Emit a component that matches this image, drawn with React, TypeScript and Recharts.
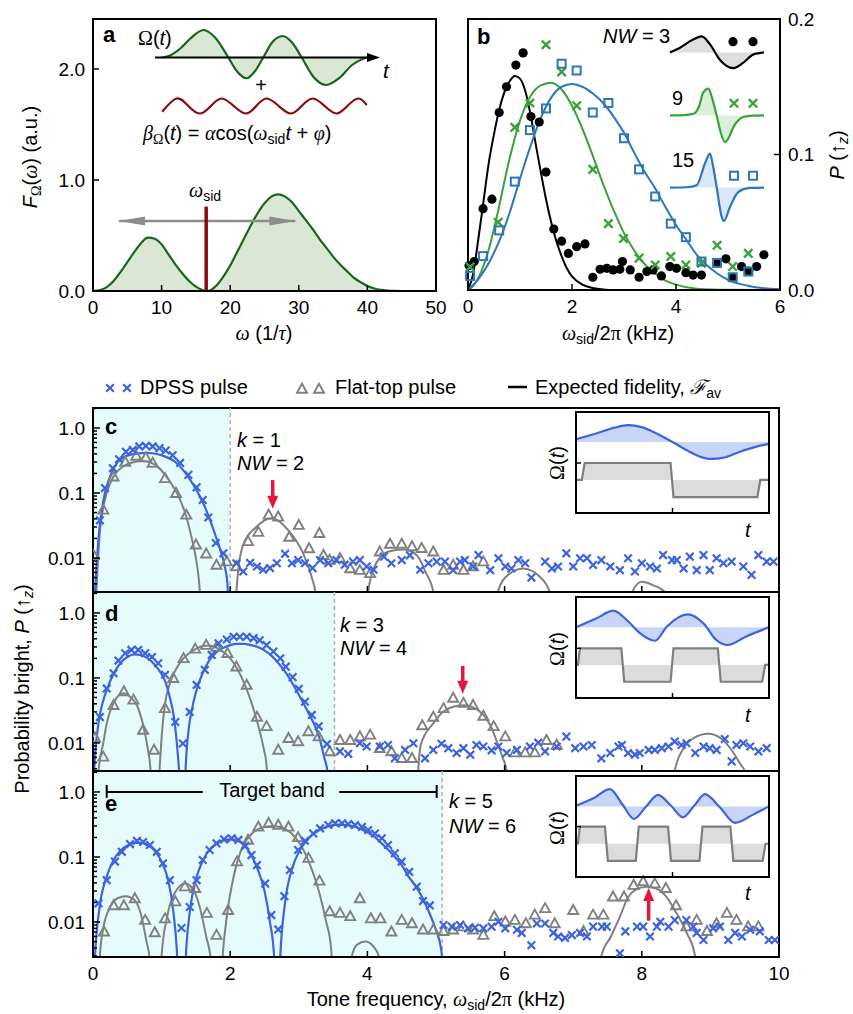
import React from 'react'
import { ComposedChart, Area, Line, Scatter, XAxis, YAxis, ReferenceArea, ReferenceLine } from 'recharts'

type Pt = [number, number]

const FONT = '"Liberation Sans", Arial, Helvetica, sans-serif'
const SERIF = '"Liberation Serif", "DejaVu Serif", serif'
const BLUE = '#3d63de'
const GRAY = '#808080'
const RED = '#e3173e'
const DRED = '#8b0a0a'
const BAND = '#e6fcfc'
const AGREEN = '#17661a'
const AFILL = '#dbe7d5'
const AXIS = { stroke: '#000', strokeWidth: 2 }

// ---- panel a
const aTicksX = [0, 10, 20, 30, 40, 50]
const aTicksY = [0, 1, 2]
const aSpectrum: Pt[] = [
  [0, 0], [1, 0.008], [2, 0.035], [3, 0.09], [4, 0.17], [5, 0.26], [6, 0.35], [7, 0.43], [8, 0.48], [9, 0.47],
  [10, 0.42], [11, 0.33], [12, 0.24], [13, 0.16], [14, 0.09], [15, 0.04], [16, 0.008], [16.5, 0], [17, 0.005],
  [18, 0.05], [19, 0.13], [20, 0.23], [21, 0.35], [22, 0.47], [23, 0.59], [24, 0.7], [25, 0.79], [26, 0.85],
  [27, 0.87], [28, 0.85], [29, 0.8], [30, 0.72], [31, 0.64], [32, 0.56], [33, 0.47], [34, 0.39], [35, 0.31],
  [36, 0.24], [37, 0.18], [38, 0.12], [39, 0.08], [40, 0.045], [41, 0.022], [42, 0.01], [43, 0.004], [44, 0.001],
  [45, 0], [50, 0],
]
const aPulse: Pt[] = [
  [0.32, 0], [0.67, 0.08], [1.11, 0.35], [1.56, 0.75], [2.15, 1.1], [2.67, 0.8], [3.26, 0], [3.64, -0.55],
  [4.07, -0.83], [4.44, -0.55], [4.81, 0], [5.2, 0.6], [5.68, 0.86], [6.09, 0.6], [6.52, 0], [7.02, -0.75],
  [7.6, -1.1], [8.22, -0.8], [8.76, -0.3], [9.41, 0],
]
const aTone: Pt[] = [
  [0.32, -2.17], [0.96, -1.64], [1.48, -1.94], [2.0, -2.24], [2.48, -1.94], [2.96, -1.64], [3.5, -1.94],
  [4.04, -2.24], [4.5, -1.94], [4.96, -1.64], [5.5, -1.94], [6.04, -2.24], [6.52, -1.94], [7.01, -1.64],
  [7.54, -1.94], [8.07, -2.24], [8.55, -1.94], [9.04, -1.64], [9.41, -1.9],
]

// ---- panel b
const bTicksX = [0, 2, 4, 6]
const bTicksY = [0, 0.1, 0.2]
const bNW3: Pt[] = [
  [0.02, 0.018], [0.12, 0.021], [0.29, 0.06], [0.46, 0.067], [0.6, 0.131], [0.74, 0.15], [0.92, 0.166],
  [1.06, 0.175], [1.21, 0.128], [1.37, 0.124], [1.5, 0.087], [1.65, 0.045], [1.8, 0.036], [1.93, 0.027],
  [2.09, 0.032], [2.25, 0.034], [2.4, 0.0094], [2.54, 0.0153], [2.67, 0.016], [2.79, 0.0148], [2.92, 0.0153],
  [2.97, 0.021], [3.12, 0.0148], [3.29, 0.0094], [3.44, 0.0136], [3.56, 0.0148], [3.72, 0.0104], [3.88, 0.0173],
  [4.01, 0.016], [4.19, 0.0128], [4.33, 0.011], [4.49, 0.011], [4.79, 0.0198], [4.96, 0.023], [5.09, 0.0094],
  [5.26, 0.0173], [5.4, 0.014], [5.55, 0.0173], [5.69, 0.026],
]
const bNW9: Pt[] = [
  [0.04, 0.017], [0.58, 0.05], [0.9, 0.12], [1.19, 0.138], [1.5, 0.181], [1.8, 0.161], [2.09, 0.136], [2.4, 0.089],
  [2.7, 0.049], [2.99, 0.038], [3.29, 0.0235], [3.6, 0.0185], [3.9, 0.0247], [4.19, 0.0185], [4.49, 0.0198],
  [4.79, 0.033], [5.09, 0.0173], [5.39, 0.027],
]
const bNW15: Pt[] = [
  [0.04, 0.0104], [0.29, 0.025], [0.6, 0.044], [0.9, 0.08], [1.19, 0.118], [1.5, 0.134], [1.8, 0.167], [2.09, 0.162],
  [2.4, 0.131], [2.7, 0.138], [3.0, 0.112], [3.29, 0.089], [3.6, 0.069], [3.9, 0.049], [4.19, 0.039], [4.49, 0.021],
  [4.79, 0.02], [5.09, 0.0094], [5.39, 0.0136],
]
const bFit3: Pt[] = [
  [0, 0], [0.1, 0.012], [0.2, 0.038], [0.3, 0.066], [0.4, 0.094], [0.5, 0.115], [0.6, 0.133], [0.7, 0.146],
  [0.8, 0.154], [0.9, 0.158], [1.0, 0.156], [1.1, 0.147], [1.2, 0.13], [1.3, 0.108], [1.4, 0.087], [1.5, 0.067],
  [1.6, 0.05], [1.7, 0.036], [1.8, 0.025], [1.9, 0.016], [2.0, 0.01], [2.2, 0.004], [2.4, 0.0015], [2.6, 0.0004],
  [2.8, 0], [6, 0],
]
const bFit9: Pt[] = [
  [0, 0], [0.1, 0.003], [0.2, 0.009], [0.3, 0.018], [0.4, 0.03], [0.5, 0.045], [0.6, 0.062], [0.7, 0.08],
  [0.8, 0.097], [0.9, 0.112], [1.0, 0.125], [1.2, 0.143], [1.4, 0.151], [1.6, 0.153], [1.8, 0.148], [2.0, 0.136],
  [2.2, 0.119], [2.4, 0.099], [2.6, 0.078], [2.8, 0.059], [3.0, 0.042], [3.2, 0.029], [3.4, 0.019], [3.6, 0.012],
  [3.8, 0.007], [4.0, 0.004], [4.4, 0.001], [5, 0.0002], [6, 0],
]
const bFit15: Pt[] = [
  [0, 0], [0.2, 0.008], [0.4, 0.02], [0.6, 0.036], [0.8, 0.057], [1.0, 0.082], [1.2, 0.106], [1.4, 0.127],
  [1.6, 0.142], [1.8, 0.15], [2.0, 0.152], [2.2, 0.15], [2.4, 0.145], [2.6, 0.138], [2.8, 0.128], [3.0, 0.116],
  [3.2, 0.101], [3.4, 0.087], [3.6, 0.075], [3.8, 0.061], [4.0, 0.048], [4.2, 0.037], [4.4, 0.026], [4.6, 0.018],
  [4.8, 0.012], [5.0, 0.0075], [5.4, 0.003], [6, 0.0005],
]
const bWave3: Pt[] = [
  [0, 0], [0.106, 0.29], [0.245, 0.8], [0.337, 1.0], [0.426, 0.5], [0.532, -0.47], [0.674, -0.98], [0.777, -0.66],
  [0.883, -0.14], [1, 0],
]
const bWave9: Pt[] = [
  [0, 0], [0.15, 0.01], [0.248, 0.06], [0.31, 0.35], [0.355, 0.87], [0.408, 1.0], [0.45, 0.62], [0.496, 0],
  [0.54, -0.65], [0.585, -1.0], [0.63, -0.8], [0.674, -0.44], [0.73, -0.17], [0.78, -0.06], [0.88, -0.01], [1, 0],
]
const bWave15: Pt[] = [
  [0, 0], [0.18, 0.01], [0.284, 0.07], [0.372, 0.71], [0.426, 1.0], [0.457, 0.65], [0.496, 0.02], [0.55, -0.86],
  [0.574, -0.98], [0.638, -0.57], [0.727, -0.13], [0.85, -0.01], [1, 0],
]

// ---- panels c, d, e
const FREQ_TICKS = [0, 2, 4, 6, 8, 10]
const LOG_TICKS = [
  0.003, 0.004, 0.005, 0.006, 0.007, 0.008, 0.009, 0.01, 0.02, 0.03, 0.04, 0.05, 0.06, 0.07, 0.08, 0.09,
  0.1, 0.2, 0.3, 0.4, 0.5, 0.6, 0.7, 0.8, 0.9, 1, 2,
]
const LOG_MAJOR = [0.01, 0.1, 1]
const LOG_LABELS: Record<string, string> = { '0.01': '0.01', '0.1': '0.1', '1': '1.0' }

const cDpss: Pt[] = [
  [0.1, 0.038], [0.175, 0.119], [0.29, 0.24], [0.38, 0.33], [0.48, 0.43], [0.58, 0.46], [0.675, 0.52], [0.77, 0.53],
  [0.87, 0.52], [0.97, 0.49], [1.06, 0.45], [1.16, 0.38], [1.27, 0.29], [1.39, 0.19], [1.51, 0.122], [1.6, 0.078],
  [1.68, 0.042], [1.79, 0.017], [1.9, 0.0118], [2.09, 0.0083], [2.19, 0.0062], [2.29, 0.0084], [2.39, 0.0074],
  [2.48, 0.0066], [2.58, 0.007], [2.68, 0.0083], [2.8, 0.0116], [2.9, 0.0083], [2.99, 0.0093], [3.09, 0.0083],
  [3.2, 0.007], [3.31, 0.0093], [3.43, 0.0083], [3.55, 0.0093], [3.67, 0.0079], [3.79, 0.0088], [3.89, 0.0093],
  [3.99, 0.0074], [4.09, 0.0066], [4.24, 0.0105], [4.35, 0.0083], [4.5, 0.0093], [4.62, 0.011], [4.77, 0.0066],
  [4.89, 0.0083], [5.01, 0.0088], [5.13, 0.0088], [5.25, 0.0065], [5.35, 0.0088], [5.42, 0.0093], [5.54, 0.0074],
  [5.62, 0.0111], [5.79, 0.0065], [5.91, 0.0099], [6.01, 0.0074], [6.1, 0.0069], [6.2, 0.0093], [6.3, 0.0083],
  [6.39, 0.005], [6.59, 0.0088], [6.69, 0.0069], [6.78, 0.0074], [6.9, 0.0118], [7.0, 0.0074], [7.1, 0.0099],
  [7.2, 0.0099], [7.29, 0.0078], [7.41, 0.0093], [7.54, 0.0074], [7.68, 0.0065], [7.8, 0.0099], [7.9, 0.0062],
  [8.0, 0.0083], [8.12, 0.0074], [8.22, 0.0069], [8.31, 0.0111], [8.44, 0.0093], [8.51, 0.0093], [8.61, 0.0069],
  [8.7, 0.0105], [8.8, 0.0065], [8.9, 0.0111], [8.99, 0.0065], [9.09, 0.0099], [9.19, 0.0083], [9.31, 0.0088],
  [9.48, 0.0074], [9.6, 0.0055], [9.7, 0.0111], [9.82, 0.0088], [9.92, 0.0088],
]
const cFlat: Pt[] = [
  [0.01, 0.011], [0.15, 0.055], [0.3, 0.178], [0.47, 0.3], [0.63, 0.37], [0.77, 0.35], [0.87, 0.29], [1.05, 0.168],
  [1.21, 0.099], [1.36, 0.046], [1.5, 0.016], [1.65, 0.0116], [1.8, 0.0078], [1.95, 0.0088], [2.09, 0.0074],
  [2.26, 0.018], [2.41, 0.025], [2.56, 0.046], [2.7, 0.043], [2.86, 0.021], [3.0, 0.032], [3.15, 0.014],
  [3.3, 0.024], [3.36, 0.011], [3.45, 0.0093], [3.6, 0.0099], [3.75, 0.0069], [3.89, 0.0065], [4.04, 0.0058],
  [4.18, 0.0125], [4.33, 0.0164], [4.5, 0.0164], [4.65, 0.015], [4.79, 0.0141], [4.96, 0.0125], [5.11, 0.0065],
  [5.25, 0.0078], [5.4, 0.0065], [5.54, 0.0074], [5.69, 0.0088],
]
const cDpssFit: Pt[] = [
  [0, 0.0005], [0.03, 0.003], [0.08, 0.02], [0.15, 0.075], [0.25, 0.18], [0.4, 0.33], [0.6, 0.4], [0.8, 0.415],
  [1.0, 0.38], [1.2, 0.3], [1.4, 0.17], [1.5, 0.115], [1.6, 0.072], [1.7, 0.04], [1.8, 0.02], [1.86, 0.013],
  [1.92, 0.0075], [1.96, 0.004], [1.99, 0.0005], [10, 0.0005],
]
const cFlatFit: Pt[] = [
  [0.02, 0.0005], [0.05, 0.003], [0.1, 0.025], [0.15, 0.06], [0.2, 0.1], [0.3, 0.18], [0.45, 0.26], [0.6, 0.3],
  [0.72, 0.31], [0.85, 0.29], [0.95, 0.25], [1.05, 0.19], [1.15, 0.135], [1.25, 0.088], [1.36, 0.043],
  [1.44, 0.02], [1.5, 0.01], [1.54, 0.005], [1.57, 0.002], [1.6, 0.0005], [2.05, 0.0005], [2.09, 0.003],
  [2.18, 0.015], [2.38, 0.03], [2.6, 0.041], [2.87, 0.025], [3.06, 0.012], [3.2, 0.0046], [3.24, 0.003],
  [3.28, 0.0005], [3.97, 0.0005], [4.01, 0.003], [4.12, 0.008], [4.3, 0.0125], [4.52, 0.0135], [4.72, 0.011],
  [4.85, 0.006], [4.96, 0.003], [5.0, 0.0005], [5.86, 0.0005], [5.9, 0.003], [6.05, 0.0055], [6.27, 0.0069],
  [6.5, 0.0053], [6.66, 0.003], [6.7, 0.0005], [7.82, 0.0005], [7.86, 0.003], [8.0, 0.0043], [8.17, 0.0038],
  [8.34, 0.003], [8.38, 0.0005], [10, 0.0005],
]

const dDpss: Pt[] = [
  [0.1, 0.025], [0.2, 0.069], [0.3, 0.118], [0.37, 0.185], [0.47, 0.24], [0.56, 0.27], [0.66, 0.27], [0.76, 0.24],
  [0.86, 0.21], [0.95, 0.168], [1.05, 0.112], [1.2, 0.021], [1.31, 0.0098], [1.41, 0.03], [1.51, 0.078],
  [1.63, 0.133], [1.73, 0.226], [1.83, 0.34], [1.95, 0.39], [2.05, 0.43], [2.14, 0.43], [2.24, 0.43], [2.34, 0.41],
  [2.43, 0.38], [2.53, 0.32], [2.63, 0.254], [2.73, 0.2], [2.81, 0.149], [2.91, 0.103], [3.0, 0.068], [3.09, 0.043],
  [3.19, 0.027], [3.29, 0.018], [3.41, 0.0096], [3.6, 0.0074], [3.72, 0.0068], [3.89, 0.0099], [3.99, 0.0088],
  [4.18, 0.0088], [4.3, 0.0093], [4.4, 0.0058], [4.55, 0.0078], [4.67, 0.0099], [4.84, 0.0058], [4.96, 0.0078],
  [5.08, 0.0097], [5.18, 0.0083], [5.3, 0.007], [5.4, 0.0083], [5.5, 0.0066], [5.59, 0.0093], [5.69, 0.0088],
  [5.81, 0.0077], [5.91, 0.0088], [6.03, 0.007], [6.18, 0.0078], [6.37, 0.0088], [6.49, 0.0101], [6.59, 0.0074],
  [6.76, 0.0088], [6.9, 0.0125], [7.03, 0.0083], [7.15, 0.0088], [7.27, 0.0093], [7.41, 0.0058], [7.54, 0.007],
  [7.66, 0.0088], [7.71, 0.0093], [7.8, 0.007], [7.9, 0.0066], [7.97, 0.007], [8.1, 0.0078], [8.19, 0.0078],
  [8.29, 0.0083], [8.39, 0.0088], [8.48, 0.0105], [8.58, 0.0093], [8.65, 0.0099], [8.78, 0.007], [8.9, 0.0088],
  [8.99, 0.0083], [9.09, 0.0078], [9.21, 0.0115], [9.31, 0.0052], [9.38, 0.0093], [9.48, 0.0099], [9.58, 0.0088],
  [9.7, 0.0074], [9.82, 0.0083],
]
const dFlat: Pt[] = [
  [0.03, 0.012], [0.15, 0.0061], [0.3, 0.038], [0.45, 0.062], [0.59, 0.046], [0.73, 0.0158], [0.89, 0.0078],
  [1.05, 0.034], [1.17, 0.099], [1.32, 0.2], [1.49, 0.28], [1.65, 0.32], [1.8, 0.3], [1.96, 0.24], [2.09, 0.149],
  [2.24, 0.078], [2.39, 0.025], [2.53, 0.018], [2.7, 0.0078], [2.85, 0.0118], [2.99, 0.0105], [3.14, 0.015],
  [3.29, 0.0125], [3.45, 0.0074], [3.6, 0.011], [3.75, 0.011], [3.89, 0.0125], [4.04, 0.0133], [4.18, 0.0083],
  [4.35, 0.0074], [4.5, 0.0058], [4.65, 0.0058], [4.8, 0.0185], [4.96, 0.025], [5.11, 0.034], [5.25, 0.049],
  [5.4, 0.041], [5.54, 0.038], [5.69, 0.026], [5.84, 0.018], [6.01, 0.0125], [6.15, 0.0071], [6.3, 0.0071],
  [6.44, 0.0071], [6.61, 0.011], [6.76, 0.0093],
]
const dDpssFit: Pt[] = [
  [0, 0.0005], [0.02, 0.004], [0.08, 0.02], [0.15, 0.045], [0.2, 0.065], [0.3, 0.116], [0.4, 0.17], [0.5, 0.21],
  [0.6, 0.23], [0.7, 0.225], [0.8, 0.2], [0.9, 0.16], [1.0, 0.115], [1.05, 0.09], [1.12, 0.05], [1.18, 0.025],
  [1.23, 0.008], [1.26, 0.003], [1.29, 0.0005], [1.32, 0.0005], [1.35, 0.004], [1.4, 0.018], [1.44, 0.032],
  [1.5, 0.06], [1.6, 0.12], [1.7, 0.19], [1.8, 0.25], [1.9, 0.29], [2.0, 0.32], [2.1, 0.335], [2.2, 0.335],
  [2.3, 0.32], [2.4, 0.3], [2.5, 0.265], [2.6, 0.22], [2.7, 0.17], [2.8, 0.125], [2.9, 0.085], [3.0, 0.055],
  [3.1, 0.035], [3.2, 0.022], [3.3, 0.012], [3.37, 0.006], [3.42, 0.0035], [3.46, 0.0005], [10, 0.0005],
]
const dFlatFit: Pt[] = [
  [0.05, 0.0005], [0.08, 0.0037], [0.15, 0.01], [0.2, 0.02], [0.3, 0.041], [0.44, 0.058], [0.55, 0.05],
  [0.64, 0.038], [0.73, 0.019], [0.8, 0.008], [0.84, 0.0037], [0.87, 0.0005], [0.94, 0.0005], [0.97, 0.0037],
  [1.0, 0.012], [1.05, 0.04], [1.1, 0.07], [1.2, 0.13], [1.3, 0.19], [1.4, 0.24], [1.5, 0.28], [1.6, 0.31],
  [1.7, 0.315], [1.8, 0.29], [1.9, 0.25], [2.0, 0.2], [2.1, 0.14], [2.2, 0.085], [2.3, 0.045], [2.4, 0.02],
  [2.48, 0.009], [2.53, 0.0045], [2.58, 0.0005], [4.7, 0.0005], [4.74, 0.0037], [4.78, 0.0095], [4.96, 0.02],
  [5.1, 0.03], [5.25, 0.036], [5.4, 0.038], [5.55, 0.035], [5.69, 0.027], [5.8, 0.018], [5.88, 0.011],
  [5.97, 0.006], [6.03, 0.0037], [6.07, 0.0005], [8.42, 0.0005], [8.48, 0.0037], [8.6, 0.008], [8.75, 0.0118],
  [8.97, 0.0138], [9.15, 0.0118], [9.3, 0.008], [9.45, 0.0045], [9.5, 0.0037], [9.55, 0.0005], [10, 0.0005],
]

const eDpss: Pt[] = [
  [0.08, 0.0194], [0.2, 0.044], [0.32, 0.085], [0.42, 0.12], [0.54, 0.158], [0.64, 0.178], [0.73, 0.17],
  [0.83, 0.153], [0.93, 0.12], [1.02, 0.08], [1.12, 0.044], [1.29, 0.0081], [1.41, 0.017], [1.51, 0.044],
  [1.6, 0.09], [1.7, 0.128], [1.8, 0.162], [1.91, 0.187], [2.02, 0.194], [2.12, 0.183], [2.22, 0.148],
  [2.31, 0.107], [2.39, 0.075], [2.51, 0.039], [2.6, 0.0128], [2.7, 0.0077], [2.79, 0.025], [2.87, 0.063],
  [2.99, 0.128], [3.09, 0.178], [3.21, 0.23], [3.31, 0.276], [3.43, 0.31], [3.53, 0.33], [3.63, 0.33], [3.72, 0.32],
  [3.82, 0.31], [3.92, 0.29], [4.01, 0.26], [4.11, 0.23], [4.21, 0.194], [4.3, 0.153], [4.4, 0.114], [4.5, 0.085],
  [4.61, 0.059], [4.72, 0.035], [4.81, 0.021], [4.91, 0.018], [5.11, 0.009], [5.23, 0.0085], [5.35, 0.009],
  [5.47, 0.008], [5.57, 0.0082], [5.69, 0.008], [5.81, 0.0085], [5.91, 0.0101], [6.01, 0.008], [6.18, 0.0076],
  [6.25, 0.0068], [6.39, 0.0044], [6.47, 0.0095], [6.59, 0.0095], [6.71, 0.0068], [6.78, 0.006], [6.88, 0.0057],
  [6.98, 0.0063], [7.1, 0.0068], [7.2, 0.006], [7.29, 0.0085], [7.42, 0.0085], [7.49, 0.0085], [7.68, 0.0033],
  [7.76, 0.0072], [7.93, 0.0085], [8.02, 0.0085], [8.12, 0.006], [8.22, 0.0085], [8.27, 0.0101], [8.39, 0.0085],
  [8.48, 0.0107], [8.65, 0.0107], [8.75, 0.0085], [8.8, 0.0068], [8.9, 0.0053], [9.04, 0.008], [9.14, 0.0085],
  [9.26, 0.0053], [9.36, 0.0068], [9.46, 0.006], [9.58, 0.0076], [9.72, 0.0072], [9.85, 0.0053], [9.94, 0.0053],
]
const eFlat: Pt[] = [
  [0.16, 0.0071], [0.3, 0.018], [0.45, 0.018], [0.61, 0.023], [0.76, 0.0107], [0.9, 0.0069], [1.05, 0.0113],
  [1.2, 0.0206], [1.34, 0.035], [1.49, 0.033], [1.66, 0.0137], [1.8, 0.0063], [1.97, 0.0152], [2.1, 0.085],
  [2.26, 0.183], [2.41, 0.29], [2.56, 0.33], [2.7, 0.31], [2.85, 0.29], [2.99, 0.2], [3.14, 0.096], [3.3, 0.043],
  [3.45, 0.0145], [3.6, 0.0137], [3.75, 0.0122], [3.89, 0.023], [4.05, 0.0113], [4.19, 0.0113], [4.35, 0.0071],
  [4.5, 0.0107], [4.65, 0.0095], [4.81, 0.0076], [4.96, 0.0076], [5.11, 0.0072], [5.25, 0.0076], [5.4, 0.0085],
  [5.54, 0.0076], [5.69, 0.0063], [5.85, 0.0122], [6.01, 0.0101], [6.15, 0.0107], [6.31, 0.0095], [6.44, 0.0129],
  [6.59, 0.0162], [6.73, 0.0095], [7.0, 0.0152], [7.15, 0.0072], [7.29, 0.0129], [7.44, 0.0129], [7.58, 0.0245],
  [7.74, 0.0245], [7.88, 0.037], [8.02, 0.042], [8.19, 0.039], [8.35, 0.033], [8.5, 0.018], [8.65, 0.0085],
  [8.8, 0.0107], [8.95, 0.0072], [9.09, 0.0095], [9.24, 0.0137], [9.38, 0.0107], [9.55, 0.0085], [9.7, 0.0085],
]
const eDpssFit: Pt[] = [
  [0, 0.0005], [0.03, 0.003], [0.1, 0.018], [0.2, 0.05], [0.3, 0.09], [0.4, 0.125], [0.5, 0.15], [0.6, 0.165],
  [0.7, 0.165], [0.8, 0.152], [0.9, 0.125], [1.0, 0.085], [1.1, 0.042], [1.17, 0.015], [1.22, 0.004],
  [1.26, 0.0005], [1.32, 0.0005], [1.36, 0.004], [1.42, 0.017], [1.5, 0.045], [1.6, 0.088], [1.7, 0.13],
  [1.8, 0.16], [1.9, 0.18], [2.0, 0.187], [2.1, 0.18], [2.2, 0.155], [2.3, 0.11], [2.4, 0.065], [2.5, 0.03],
  [2.58, 0.01], [2.64, 0.003], [2.67, 0.0005], [2.7, 0.0005], [2.73, 0.003], [2.8, 0.02], [2.9, 0.065],
  [3.0, 0.12], [3.1, 0.17], [3.2, 0.22], [3.3, 0.26], [3.4, 0.29], [3.5, 0.31], [3.6, 0.315], [3.7, 0.31],
  [3.8, 0.295], [3.9, 0.27], [4.0, 0.24], [4.1, 0.205], [4.2, 0.165], [4.3, 0.13], [4.4, 0.1], [4.5, 0.075],
  [4.6, 0.05], [4.7, 0.036], [4.8, 0.024], [4.9, 0.014], [5.0, 0.0075], [5.08, 0.0035], [5.14, 0.0005], [10, 0.0005],
]
const eFlatFit: Pt[] = [
  [0.07, 0.0005], [0.1, 0.003], [0.15, 0.008], [0.25, 0.017], [0.35, 0.023], [0.48, 0.025], [0.6, 0.022],
  [0.7, 0.013], [0.78, 0.005], [0.83, 0.0025], [0.87, 0.0005], [0.96, 0.0005], [1.0, 0.003], [1.08, 0.012],
  [1.2, 0.029], [1.34, 0.039], [1.45, 0.033], [1.55, 0.018], [1.65, 0.006], [1.72, 0.0025], [1.76, 0.0005],
  [1.85, 0.0005], [1.89, 0.003], [1.95, 0.012], [2.05, 0.05], [2.15, 0.12], [2.3, 0.22], [2.45, 0.28], [2.63, 0.3],
  [2.8, 0.27], [2.95, 0.2], [3.1, 0.11], [3.2, 0.06], [3.3, 0.028], [3.4, 0.01], [3.47, 0.004], [3.52, 0.0005],
  [3.72, 0.0005], [3.77, 0.0029], [3.85, 0.0045], [3.97, 0.005], [4.08, 0.0043], [4.17, 0.0029], [4.22, 0.0005],
  [7.35, 0.0005], [7.41, 0.003], [7.55, 0.006], [7.68, 0.012], [7.8, 0.024], [7.9, 0.031], [8.07, 0.035],
  [8.2, 0.033], [8.35, 0.025], [8.5, 0.014], [8.65, 0.007], [8.78, 0.0029], [8.83, 0.0005], [10, 0.0005],
]

// pulse shape insets of c, d, e (time 0..1, arbitrary amplitude 0..10)
const cPulseDpss: Pt[] = [
  [0, 7.3], [0.1, 7.85], [0.2, 8.45], [0.27, 8.7], [0.34, 8.5], [0.42, 7.85], [0.5, 7.03], [0.58, 6.15],
  [0.64, 5.6], [0.7, 5.35], [0.77, 5.5], [0.85, 6.07], [0.93, 6.55], [1, 6.85],
]
const cPulseFlat: Pt[] = [[0, 3.27], [0.03, 3.27], [0.045, 4.95], [0.49, 4.95], [0.505, 1.58], [0.94, 1.58], [0.955, 3.27], [1, 3.27]]
const dPulseDpss: Pt[] = [
  [0, 7.0], [0.107, 7.9], [0.194, 8.65], [0.263, 7.72], [0.332, 6.4], [0.41, 5.67], [0.47, 7.06], [0.58, 8.28],
  [0.66, 7.4], [0.727, 5.74], [0.787, 5.25], [0.88, 6.07], [1, 7.0],
]
const dPulseFlat: Pt[] = [
  [0, 3.27], [0.01, 3.27], [0.02, 4.92], [0.235, 4.92], [0.25, 1.61], [0.49, 1.61], [0.505, 4.92], [0.735, 4.92],
  [0.75, 1.61], [0.965, 1.61], [0.98, 3.27], [1, 3.27],
]
const ePulseDpss: Pt[] = [
  [0, 7.06], [0.09, 7.8], [0.176, 8.7], [0.24, 7.2], [0.3, 5.75], [0.36, 6.9], [0.425, 8.14], [0.49, 7.1],
  [0.555, 5.91], [0.61, 7.0], [0.668, 8.2], [0.745, 6.9], [0.824, 5.36], [0.92, 6.2], [1, 6.99],
]
const ePulseFlat: Pt[] = [
  [0, 3.29], [0.01, 3.29], [0.02, 4.99], [0.15, 4.99], [0.165, 1.59], [0.31, 1.59], [0.325, 4.99], [0.477, 4.99],
  [0.492, 1.59], [0.64, 1.59], [0.655, 4.99], [0.8, 4.99], [0.815, 1.59], [0.967, 1.59], [0.982, 3.29], [1, 3.29],
]

const rows = (pts: Pt[]) => pts.map(([f, v]) => ({ f, v }))

// ---- marker shapes
const cross = (color: string, s: number, w: number) => (p: any) =>
  p.cx == null ? <g /> : (
    <path d={`M${p.cx - s},${p.cy - s}L${p.cx + s},${p.cy + s}M${p.cx - s},${p.cy + s}L${p.cx + s},${p.cy - s}`} stroke={color} strokeWidth={w} fill="none" />
  )
const tri = (color: string, s: number) => (p: any) =>
  p.cx == null ? <g /> : (
    <path d={`M${p.cx},${p.cy - s * 1.05}L${p.cx + s},${p.cy + s * 0.75}L${p.cx - s},${p.cy + s * 0.75}Z`} stroke={color} strokeWidth={1.9} fill="none" />
  )
const dot = (color: string, r: number) => (p: any) => (p.cx == null ? <g /> : <circle cx={p.cx} cy={p.cy} r={r} fill={color} />)
const square = (color: string, s: number) => (p: any) =>
  p.cx == null ? <g /> : <rect x={p.cx - s} y={p.cy - s} width={2 * s} height={2 * s} stroke={color} strokeWidth={2} fill="none" />
const head = (dir: 'left' | 'right' | 'up' | 'down', len: number, half: number, color: string) => (p: any) => {
  const { cx, cy } = p
  if (cx == null) return <g />
  let d = ''
  if (dir === 'right') d = `M${cx},${cy}L${cx - len},${cy - half}L${cx - len},${cy + half}Z`
  if (dir === 'left') d = `M${cx},${cy}L${cx + len},${cy - half}L${cx + len},${cy + half}Z`
  if (dir === 'down') d = `M${cx},${cy}L${cx - half},${cy - len}L${cx + half},${cy - len}Z`
  if (dir === 'up') d = `M${cx},${cy}L${cx - half},${cy + len}L${cx + half},${cy + len}Z`
  return <path d={d} fill={color} />
}

// ---- axis ticks drawn inward
function Tick(props: any) {
  const { x, y, payload, side, len = 6, minor = 3, majors, fmt } = props
  const v = payload?.value
  const label = fmt ? fmt(v) : ''
  const l = majors && !majors.includes(v) ? minor : len
  const st = { fontFamily: FONT, fontSize: 19, fill: '#000' }
  if (side === 'left')
    return (
      <g>
        <line x1={x} x2={x + l} y1={y} y2={y} stroke="#000" strokeWidth={1.5} />
        {label ? <text x={x - 8} y={y} dy="0.36em" textAnchor="end" style={st}>{label}</text> : null}
      </g>
    )
  if (side === 'right')
    return (
      <g>
        <line x1={x} x2={x - l} y1={y} y2={y} stroke="#000" strokeWidth={1.5} />
        {label ? <text x={x + 8} y={y} dy="0.36em" textAnchor="start" style={st}>{label}</text> : null}
      </g>
    )
  return (
    <g>
      <line x1={x} x2={x} y1={y} y2={y - l} stroke="#000" strokeWidth={1.5} />
      {label ? <text x={x} y={y + 23} textAnchor="middle" style={st}>{label}</text> : null}
    </g>
  )
}

// ---- text helpers
const G = ({ c }: { c: string }) => <span style={{ fontFamily: SERIF, fontStyle: 'italic' }}>{c}</span>
const Sub = ({ children }: any) => <span style={{ fontSize: '0.7em', position: 'relative', top: '0.32em' }}>{children}</span>

function Txt({ x, y, size = 20, anchor = 'start', bold, children }: any) {
  const shift = anchor === 'middle' ? '-50%' : anchor === 'end' ? '-100%' : '0'
  return (
    <div style={{ position: 'absolute', left: x, top: y - size * 0.85, fontSize: size, lineHeight: `${size}px`, fontFamily: FONT, fontWeight: bold ? 700 : 400, whiteSpace: 'nowrap', transform: `translateX(${shift})`, color: '#000' }}>
      {children}
    </div>
  )
}
function VTxt({ x, y, size = 20, children }: any) {
  return (
    <div style={{ position: 'absolute', left: x, top: y, fontSize: size, lineHeight: `${size}px`, fontFamily: FONT, whiteSpace: 'nowrap', transform: 'translate(-50%, -50%) rotate(-90deg)', color: '#000' }}>
      {children}
    </div>
  )
}

interface ToneProps {
  top: number
  height: number
  xh: number
  lo: number
  hi: number
  band: number
  dpss: Pt[]
  flat: Pt[]
  dpssFit: Pt[]
  flatFit: Pt[]
  arrowF: number
  arrowFrom: number
  arrowTo: number
  arrowTip: number
  up?: boolean
  showX?: boolean
  extra?: React.ReactNode
}

function TonePanel(p: ToneProps) {
  const ticks = LOG_TICKS.filter((t) => t >= p.lo && t <= p.hi)
  return (
    <div style={{ position: 'absolute', left: 0, top: p.top }}>
      <ComposedChart width={853} height={p.height} margin={{ top: 8, right: 74, bottom: 0, left: 0 }}>
        <XAxis type="number" dataKey="f" domain={[0, 10]} allowDataOverflow ticks={FREQ_TICKS} interval={0} height={p.xh} tickSize={0} tickMargin={0} tickLine={false} axisLine={AXIS}
          tick={<Tick side="bottom" len={6} fmt={p.showX ? (v: number) => String(v) : undefined} />} />
        <YAxis type="number" scale="log" domain={[p.lo, p.hi]} allowDataOverflow ticks={ticks} interval={0} width={93} tickSize={0} tickMargin={0} tickLine={false} axisLine={AXIS}
          tick={<Tick side="left" len={7} minor={4} majors={LOG_MAJOR} fmt={(v: number) => LOG_LABELS[String(v)] || ''} />} />
        <ReferenceArea x1={0} x2={p.band} y1={p.lo} y2={p.hi} fill={BAND} fillOpacity={1} stroke="none" />
        <ReferenceLine x={p.band} stroke="#a9b5b5" strokeWidth={1.5} strokeDasharray="4 3" />
        <Line data={rows(p.flatFit)} dataKey="v" type="monotone" stroke={GRAY} strokeWidth={2} dot={false} isAnimationActive={false} />
        <Line data={rows(p.dpssFit)} dataKey="v" type="monotone" stroke={BLUE} strokeWidth={2.2} dot={false} isAnimationActive={false} />
        <Scatter data={rows(p.flat)} dataKey="v" shape={tri(GRAY, 5)} isAnimationActive={false} />
        <Scatter data={rows(p.dpss)} dataKey="v" shape={cross(BLUE, 3.8, 2.2)} isAnimationActive={false} />
        <ReferenceLine segment={[{ x: p.arrowF, y: p.arrowFrom }, { x: p.arrowF, y: p.arrowTo }]} stroke={RED} strokeWidth={3.5} />
        <Scatter data={[{ f: p.arrowF, v: p.arrowTip }]} dataKey="v" shape={head(p.up ? 'up' : 'down', 13, 5.5, RED)} isAnimationActive={false} />
        {p.extra}
        <ReferenceArea x1={0} x2={10} y1={p.lo} y2={p.hi} fill="none" stroke="#000" strokeWidth={2} />
      </ComposedChart>
    </div>
  )
}

function PulseInset({ top, dpss, flat, dpssBase, flatBase, high }: any) {
  return (
    <div style={{ position: 'absolute', left: 540, top: top - 7 }}>
      <ComposedChart width={240} height={140} margin={{ top: 7, right: 11, bottom: 31, left: 0 }}>
        <XAxis type="number" dataKey="f" domain={[0, 1]} ticks={[0, 0.5]} interval={0} height={1} tickSize={0} tickMargin={0} tickLine={false} axisLine={AXIS} tick={<Tick side="bottom" len={5} />} />
        <YAxis type="number" domain={[0, 10]} ticks={[high]} interval={0} width={36} tickSize={0} tickMargin={0} tickLine={false} axisLine={AXIS} tick={<Tick side="left" len={5} />} />
        <Area data={rows(dpss)} dataKey="v" baseValue={dpssBase} type="monotone" stroke={BLUE} strokeWidth={2.2} fill="#c9d5f6" fillOpacity={1} isAnimationActive={false} />
        <Area data={rows(flat)} dataKey="v" baseValue={flatBase} type="linear" stroke="#7f7f7f" strokeWidth={2.2} fill="#dcdcdc" fillOpacity={1} isAnimationActive={false} />
        <ReferenceArea x1={0} x2={1} y1={0} y2={10} fill="none" stroke="#000" strokeWidth={2} />
      </ComposedChart>
    </div>
  )
}

function Wave({ left, top, width, height, pts, color, fill }: any) {
  return (
    <div style={{ position: 'absolute', left: left - 3, top: top - 3 }}>
      <ComposedChart width={width + 6} height={height + 6} margin={{ top: 3, right: 3, bottom: 3, left: 3 }}>
        <XAxis type="number" dataKey="f" domain={[0, 1]} hide />
        <YAxis type="number" domain={[-1.4, 1.4]} hide />
        <Area data={rows(pts)} dataKey="v" baseValue={0} type="monotone" stroke={color} strokeWidth={2.2} fill={fill} fillOpacity={1} isAnimationActive={false} />
      </ComposedChart>
    </div>
  )
}

export default function App() {
  return (
    <div style={{ position: 'absolute', left: 0, top: 0, width: 853, height: 1014, background: '#fff', fontFamily: FONT }}>
      {/* panel a */}
      <div style={{ position: 'absolute', left: 0, top: 0 }}>
        <ComposedChart width={460} height={340} margin={{ top: 19, right: 24, bottom: 0, left: 0 }}>
          <XAxis type="number" dataKey="f" domain={[0, 50]} ticks={aTicksX} interval={0} height={49} tickSize={0} tickMargin={0} tickLine={false} axisLine={AXIS}
            tick={<Tick side="bottom" len={6} fmt={(v: number) => String(v)} />} />
          <YAxis type="number" domain={[0, 2.45]} ticks={aTicksY} interval={0} width={93} tickSize={0} tickMargin={0} tickLine={false} axisLine={AXIS}
            tick={<Tick side="left" len={6} fmt={(v: number) => v.toFixed(1)} />} />
          <Area data={rows(aSpectrum)} dataKey="v" type="monotone" stroke={AGREEN} strokeWidth={2.2} fill={AFILL} fillOpacity={1} isAnimationActive={false} />
          <ReferenceLine segment={[{ x: 3.8, y: 0.63 }, { x: 29.5, y: 0.63 }]} stroke="#8c8c8c" strokeWidth={2.5} />
          <Scatter data={[{ f: 3.8, v: 0.63 }]} dataKey="v" shape={head('left', 26, 4.5, '#8c8c8c')} isAnimationActive={false} />
          <Scatter data={[{ f: 29.5, v: 0.63 }]} dataKey="v" shape={head('right', 26, 4.5, '#8c8c8c')} isAnimationActive={false} />
          <ReferenceLine segment={[{ x: 16.5, y: 0 }, { x: 16.5, y: 0.76 }]} stroke={DRED} strokeWidth={3.5} />
          <ReferenceArea x1={0} x2={50} y1={0} y2={2.45} fill="none" stroke="#000" strokeWidth={2} />
        </ComposedChart>
      </div>
      <div style={{ position: 'absolute', left: 155, top: 14 }}>
        <ComposedChart width={231} height={112} margin={{ top: 6, right: 6, bottom: 6, left: 0 }}>
          <XAxis type="number" dataKey="f" domain={[0, 10]} hide />
          <YAxis type="number" domain={[-2.5, 1.5]} hide />
          <Area data={rows(aPulse)} dataKey="v" baseValue={0} type="monotone" stroke={AGREEN} strokeWidth={2.2} fill={AFILL} fillOpacity={1} isAnimationActive={false} />
          <ReferenceLine segment={[{ x: 0, y: 0 }, { x: 9.5, y: 0 }]} stroke="#000" strokeWidth={2} />
          <Scatter data={[{ f: 10, v: 0 }]} dataKey="v" shape={head('right', 13, 4.5, '#000')} isAnimationActive={false} />
          <Line data={rows(aTone)} dataKey="v" type="natural" stroke={DRED} strokeWidth={2.2} dot={false} isAnimationActive={false} />
        </ComposedChart>
      </div>

      {/* panel b */}
      <div style={{ position: 'absolute', left: 440, top: 0 }}>
        <ComposedChart width={413} height={340} margin={{ top: 19, right: 0, bottom: 0, left: 28 }}>
          <XAxis type="number" dataKey="f" domain={[0, 6]} ticks={bTicksX} interval={0} height={50} tickSize={0} tickMargin={0} tickLine={false} axisLine={AXIS}
            tick={<Tick side="bottom" len={6} fmt={(v: number) => String(v)} />} />
          <YAxis orientation="right" type="number" domain={[0, 0.2]} allowDataOverflow ticks={bTicksY} interval={0} width={73} tickSize={0} tickMargin={0} tickLine={false} axisLine={AXIS}
            tick={<Tick side="right" len={6} fmt={(v: number) => v.toFixed(1)} />} />
          <Line data={rows(bFit3)} dataKey="v" type="monotone" stroke="#000" strokeWidth={2} dot={false} isAnimationActive={false} />
          <Line data={rows(bFit9)} dataKey="v" type="monotone" stroke="#3aa338" strokeWidth={2} dot={false} isAnimationActive={false} />
          <Line data={rows(bFit15)} dataKey="v" type="monotone" stroke="#2a78bb" strokeWidth={2} dot={false} isAnimationActive={false} />
          <Scatter data={rows(bNW3)} dataKey="v" shape={dot('#000', 4.6)} isAnimationActive={false} />
          <Scatter data={rows(bNW9)} dataKey="v" shape={cross('#3aa338', 4.2, 2.4)} isAnimationActive={false} />
          <Scatter data={rows(bNW15)} dataKey="v" shape={square('#2a78bb', 4)} isAnimationActive={false} />
          <ReferenceArea x1={0} x2={6} y1={0} y2={0.2} fill="none" stroke="#000" strokeWidth={2} />
        </ComposedChart>
      </div>
      <Wave left={670} top={30.3} width={94} height={44.8} pts={bWave3} color="#000" fill="#dedede" />
      <Wave left={670} top={77.6} width={94} height={74.8} pts={bWave9} color="#3aa338" fill="#dcefd9" />
      <Wave left={670} top={139.7} width={94} height={95.2} pts={bWave15} color="#2a78bb" fill="#dce8f5" />

      {/* panels c, d, e */}
      <TonePanel top={400} height={200} xh={8} lo={0.003} hi={2.03} band={2.0} dpss={cDpss} flat={cFlat} dpssFit={cDpssFit} flatFit={cFlatFit}
        arrowF={2.62} arrowFrom={0.158} arrowTo={0.08} arrowTip={0.057} />
      <TonePanel top={584} height={195} xh={8} lo={0.0037} hi={2.1} band={3.52} dpss={dDpss} flat={dFlat} dpssFit={dDpssFit} flatFit={dFlatFit}
        arrowF={5.39} arrowFrom={0.153} arrowTo={0.08} arrowTip={0.057} />
      <TonePanel top={763} height={251} xh={57} lo={0.0029} hi={2.1} band={5.09} dpss={eDpss} flat={eFlat} dpssFit={eDpssFit} flatFit={eFlatFit}
        arrowF={8.1} arrowFrom={0.0105} arrowTo={0.024} arrowTip={0.0333} up showX
        extra={[
          <ReferenceLine key="t1" segment={[{ x: 0.2, y: 1 }, { x: 1.6, y: 1 }]} stroke="#000" strokeWidth={2} />,
          <ReferenceLine key="t2" segment={[{ x: 3.59, y: 1 }, { x: 5.01, y: 1 }]} stroke="#000" strokeWidth={2} />,
          <ReferenceLine key="t3" segment={[{ x: 0.2, y: 1.28 }, { x: 0.2, y: 0.81 }]} stroke="#000" strokeWidth={2} />,
          <ReferenceLine key="t4" segment={[{ x: 5.01, y: 1.28 }, { x: 5.01, y: 0.81 }]} stroke="#000" strokeWidth={2} />,
        ]} />
      <PulseInset top={412} dpss={cPulseDpss} flat={cPulseFlat} dpssBase={7.03} flatBase={3.27} high={4.95} />
      <PulseInset top={597} dpss={dPulseDpss} flat={dPulseFlat} dpssBase={7.0} flatBase={3.27} high={4.92} />
      <PulseInset top={776} dpss={ePulseDpss} flat={ePulseFlat} dpssBase={6.99} flatBase={3.29} high={4.99} />

      {/* legend glyphs */}
      <svg width={853} height={1014} style={{ position: 'absolute', left: 0, top: 0, pointerEvents: 'none' }}>
        {cross(BLUE, 3.8, 2.2)({ cx: 110, cy: 388 })}
        {cross(BLUE, 3.8, 2.2)({ cx: 127, cy: 388 })}
        {tri(GRAY, 5)({ cx: 302, cy: 389 })}
        {tri(GRAY, 5)({ cx: 319, cy: 389 })}
        <line x1={508} x2={527} y1={387} y2={387} stroke="#000" strokeWidth={2.5} />
        {dot('#000', 4.6)({ cx: 733, cy: 41.7 })}
        {dot('#000', 4.6)({ cx: 753, cy: 41.7 })}
        {cross('#3aa338', 4.2, 2.4)({ cx: 734, cy: 103.3 })}
        {cross('#3aa338', 4.2, 2.4)({ cx: 753, cy: 103.3 })}
        {square('#2a78bb', 4)({ cx: 734, cy: 175.7 })}
        {square('#2a78bb', 4)({ cx: 753, cy: 175.7 })}
      </svg>

      {/* panel a text */}
      <Txt x={103} y={43} size={22} bold>a</Txt>
      <Txt x={138} y={45}><span style={{ fontFamily: SERIF }}>Ω</span>(<i>t</i>)</Txt>
      <Txt x={383} y={78} size={21}><i>t</i></Txt>
      <Txt x={261} y={92} anchor="middle">+</Txt>
      <Txt x={143} y={140}>
        <G c="β" /><Sub><span style={{ fontFamily: SERIF }}>Ω</span></Sub>(<i>t</i>) = <G c="α" />cos(<G c="ω" /><Sub>sid</Sub><i>t</i> + <G c="φ" />)
      </Txt>
      <Txt x={189} y={197}><G c="ω" /><Sub>sid</Sub></Txt>
      <VTxt x={31} y={157}><i>F</i><Sub><span style={{ fontFamily: SERIF }}>Ω</span></Sub>(<G c="ω" />) (a.u.)</VTxt>
      <Txt x={264} y={340} anchor="middle"><G c="ω" /> (1/<G c="τ" />)</Txt>

      {/* panel b text */}
      <Txt x={477} y={45} size={22} bold>b</Txt>
      <Txt x={603} y={43}><i>NW</i> = 3</Txt>
      <Txt x={672} y={105}>9</Txt>
      <Txt x={672} y={167}>15</Txt>
      <Txt x={618} y={340} anchor="middle"><G c="ω" /><Sub>sid</Sub>/2<span style={{ fontFamily: SERIF }}>π</span> (kHz)</Txt>
      <VTxt x={838} y={155}><i>P</i> (↑<Sub><i>z</i></Sub>)</VTxt>

      {/* legend */}
      <Txt x={140} y={394}>DPSS pulse</Txt>
      <Txt x={335} y={394}>Flat-top pulse</Txt>
      <Txt x={535} y={394}>Expected fidelity, <span style={{ fontStyle: 'italic' }}>ℱ</span><Sub>av</Sub></Txt>

      {/* panels c-e text */}
      <Txt x={105} y={435} size={22} bold>c</Txt>
      <Txt x={237} y={447}><i>k</i> = 1</Txt>
      <Txt x={237} y={470}><i>NW</i> = 2</Txt>
      <Txt x={105} y={622} size={22} bold>d</Txt>
      <Txt x={340} y={632}><i>k</i> = 3</Txt>
      <Txt x={340} y={655}><i>NW</i> = 4</Txt>
      <Txt x={105} y={812} size={22} bold>e</Txt>
      <Txt x={449} y={808}><i>k</i> = 5</Txt>
      <Txt x={449} y={833}><i>NW</i> = 6</Txt>
      <Txt x={272} y={797} anchor="middle">Target band</Txt>

      <VTxt x={557} y={463}><span style={{ fontFamily: SERIF }}>Ω</span>(<i>t</i>)</VTxt>
      <Txt x={745} y={537}><i>t</i></Txt>
      <VTxt x={557} y={649}><span style={{ fontFamily: SERIF }}>Ω</span>(<i>t</i>)</VTxt>
      <Txt x={745} y={722}><i>t</i></Txt>
      <VTxt x={557} y={828}><span style={{ fontFamily: SERIF }}>Ω</span>(<i>t</i>)</VTxt>
      <Txt x={745} y={900}><i>t</i></Txt>

      <VTxt x={23} y={689}>Probability bright, <i>P</i> (↑<Sub><i>z</i></Sub>)</VTxt>
      <Txt x={436} y={1006} anchor="middle">Tone frequency, <G c="ω" /><Sub>sid</Sub>/2<span style={{ fontFamily: SERIF }}>π</span> (kHz)</Txt>
    </div>
  )
}
